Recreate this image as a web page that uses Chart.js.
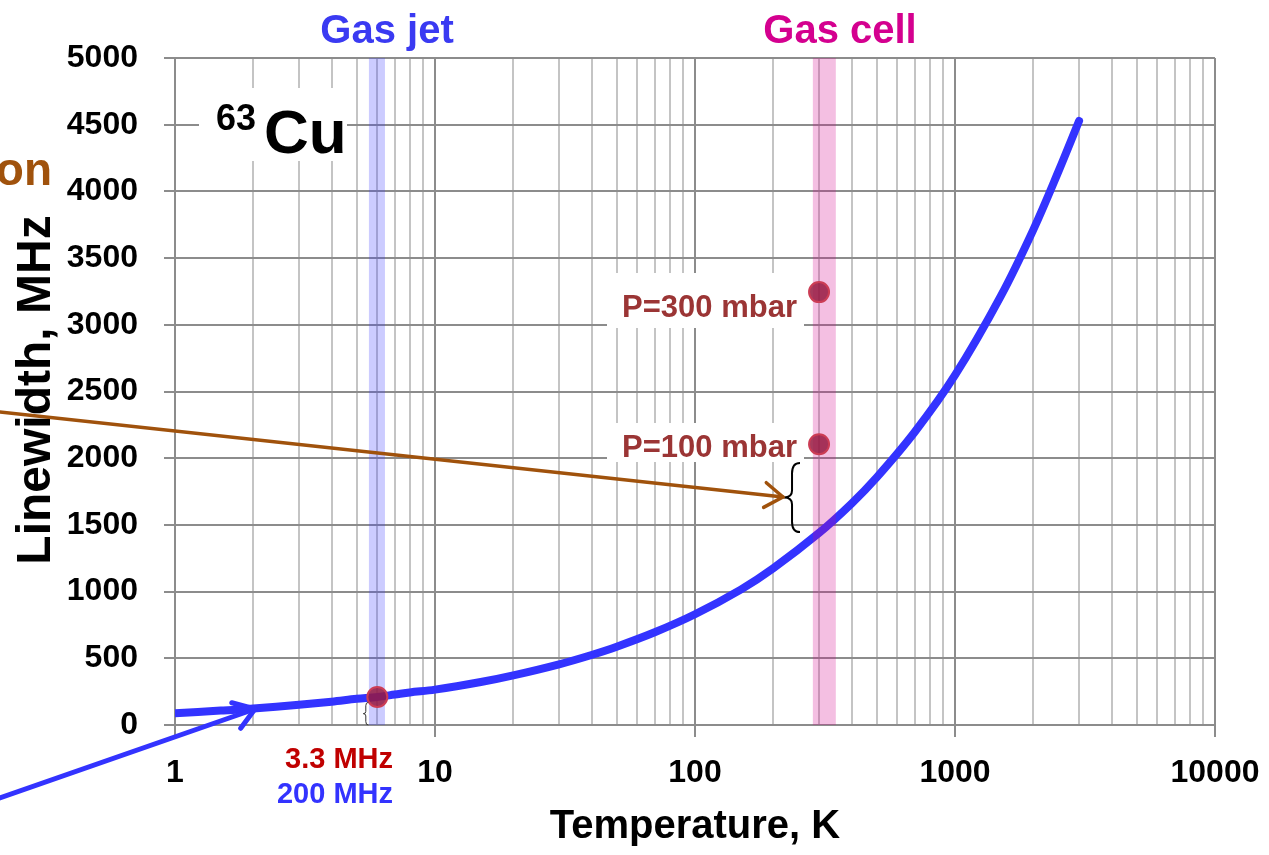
<!DOCTYPE html>
<html><head><meta charset="utf-8">
<script src="https://cdn.jsdelivr.net/npm/chart.js@4.4.1/dist/chart.umd.min.js"></script>
<style>html,body{margin:0;padding:0;background:#fff;}canvas{display:block;}</style>
</head><body>
<canvas id="c" width="1269" height="855"></canvas>
<script>
// ---- data ----
const temperatureK = [1, 1.5, 2, 3, 4, 5, 6, 7, 8, 10, 15, 20, 30, 40, 50, 70, 100, 150, 200, 300, 400, 500, 700, 1000, 1500, 2000, 2500, 3000];
const linewidthMHz = [88, 108, 124, 152, 175, 196, 210, 228, 244, 265, 322, 372, 455, 525, 587, 695, 830, 1015, 1175, 1440, 1660, 1856, 2196, 2622, 3215, 3712, 4150, 4528];
const markerTemperatureK = [6, 300, 300];
const markerLinewidthMHz = [210, 3245, 2105];
const xDecades = [1, 10, 100, 1000, 10000];
const xTickLabels = ['1', '10', '100', '1000', '10000'];
const yTickValues = [0, 500, 1000, 1500, 2000, 2500, 3000, 3500, 4000, 4500, 5000];
const jetBandK = [5.57, 6.42];
const cellBandK = [284, 348];

const FONT = "'Liberation Sans', Arial, sans-serif";
const GRID_MAJOR = '#8c8c8c';
const GRID_MINOR = '#c4c4c4';

function isDecade(v) { return xDecades.some(d => Math.abs(v - d) < 1e-9 * d); }

function arrow(ctx, x0, y0, x1, y1, color, w, head) {
  const a = Math.atan2(y1 - y0, x1 - x0);
  ctx.save();
  ctx.strokeStyle = color; ctx.lineWidth = w; ctx.lineCap = 'round'; ctx.lineJoin = 'round';
  ctx.beginPath(); ctx.moveTo(x0, y0); ctx.lineTo(x1, y1); ctx.stroke();
  ctx.beginPath();
  ctx.moveTo(x1 - head * Math.cos(a - 0.6), y1 - head * Math.sin(a - 0.6));
  ctx.lineTo(x1, y1);
  ctx.lineTo(x1 - head * Math.cos(a + 0.6), y1 - head * Math.sin(a + 0.6));
  ctx.stroke();
  ctx.restore();
}

function brace(ctx, x, y0, y1, w, lw, color) {
  const h = y1 - y0, ym = (y0 + y1) / 2, xm = x + w / 2;
  ctx.save();
  ctx.strokeStyle = color; ctx.lineWidth = lw;
  ctx.beginPath();
  ctx.moveTo(x + w, y0);
  ctx.quadraticCurveTo(xm, y0, xm, y0 + h * 0.15);
  ctx.lineTo(xm, ym - h * 0.1);
  ctx.quadraticCurveTo(xm, ym, x, ym);
  ctx.quadraticCurveTo(xm, ym, xm, ym + h * 0.1);
  ctx.lineTo(xm, y1 - h * 0.15);
  ctx.quadraticCurveTo(xm, y1, x + w, y1);
  ctx.stroke();
  ctx.restore();
}

function text(ctx, s, x, y, size, color, align) {
  ctx.font = 'bold ' + size + 'px ' + FONT;
  ctx.fillStyle = color;
  ctx.textAlign = align || 'left';
  ctx.textBaseline = 'alphabetic';
  ctx.fillText(s, x, y);
}

const bandsPlugin = {
  id: 'bands',
  afterDatasetDraw(chart, args) {
    if (args.index !== 0) return;
    const ctx = chart.ctx, xs = chart.scales.x, a = chart.chartArea;
    ctx.save();
    const drawBand = (b, color) => {
      const x0 = xs.getPixelForValue(b[0]), x1 = xs.getPixelForValue(b[1]);
      ctx.fillStyle = color;
      ctx.fillRect(x0, a.top, x1 - x0, a.bottom - a.top);
    };
    drawBand(jetBandK, 'rgba(51,51,255,0.25)');
    drawBand(cellBandK, 'rgba(212,0,138,0.25)');
    ctx.restore();
  }
};

const annotPlugin = {
  id: 'annot',
  afterDraw(chart) {
    const ctx = chart.ctx, xs = chart.scales.x, ys = chart.scales.y;
    const px = v => xs.getPixelForValue(v), py = v => ys.getPixelForValue(v);
    ctx.save();
    // white label boxes
    ctx.fillStyle = '#fff';
    ctx.fillRect(199, 88, 148, 73);
    ctx.fillRect(607, 273, 197, 55);
    ctx.fillRect(607, 423, 197, 39);
    // header labels
    text(ctx, 'Gas jet', 387, 43, 40, '#3a3af2', 'center');
    text(ctx, 'Gas cell', 840, 43, 40, '#d4008f', 'center');
    // isotope label
    text(ctx, '63', 216, 130, 36, '#000', 'left');
    text(ctx, 'Cu', 264, 153, 62, '#000', 'left');
    // pressure labels
    text(ctx, 'P=300 mbar', 797, 317, 31, '#9b3535', 'right');
    text(ctx, 'P=100 mbar', 797, 457, 31, '#9b3535', 'right');
    // linewidth notes
    text(ctx, '3.3 MHz', 393, 768, 29, '#c00000', 'right');
    text(ctx, '200 MHz', 393, 803, 29, '#3333ff', 'right');
    // cut-off word on the left
    text(ctx, 'on', 52, 185, 46, '#a0520c', 'right');
    // axis titles
    text(ctx, 'Temperature, K', 695, 838, 40, '#000', 'center');
    ctx.save();
    ctx.translate(50, 390);
    ctx.rotate(-Math.PI / 2);
    text(ctx, 'Linewidth, MHz', 0, 0, 48, '#000', 'center');
    ctx.restore();
    // braces
    brace(ctx, px(220), py(1964), py(1447), 16, 2, '#000');
    brace(ctx, px(5.3), py(170), py(0), 5, 1, '#333');
    // arrows
    arrow(ctx, px(0.212), py(2346), px(218), py(1709), '#a0520c', 3.5, 22);
    arrow(ctx, px(0.212), py(-547), px(2.03), py(120), '#3333ff', 5, 24);
    ctx.restore();
  }
};

new Chart(document.getElementById('c'), {
  type: 'line',
  data: {
    datasets: [
      {
        data: temperatureK.map((t, i) => ({ x: t, y: linewidthMHz[i] })),
        borderColor: '#3333ff', borderWidth: 8, pointRadius: 0,
        tension: 0.35, borderCapStyle: 'round', borderJoinStyle: 'round',
        fill: false, order: 2
      },
      {
        type: 'scatter',
        data: markerTemperatureK.map((t, i) => ({ x: t, y: markerLinewidthMHz[i] })),
        backgroundColor: 'rgba(150,25,65,0.85)', borderColor: '#cc3d55', borderWidth: 2,
        pointRadius: 10, showLine: false, order: 1
      }
    ]
  },
  options: {
    responsive: false, animation: false, devicePixelRatio: 1,
    layout: { padding: { left: 0, right: 54, top: 58, bottom: 0 } },
    plugins: { legend: { display: false }, tooltip: { enabled: false } },
    scales: {
      x: {
        type: 'logarithmic', min: 1, max: 10000,
        afterFit(s) { s.height = 130; s.paddingLeft = 0; s.paddingRight = 0; },
        afterBuildTicks(s) {
          const t = [];
          for (let d = 0; d < xDecades.length - 1; d++)
            for (let k = 1; k <= 9; k++) t.push({ value: k * xDecades[d] });
          t.push({ value: xDecades[xDecades.length - 1] });
          s.ticks = t;
        },
        ticks: {
          autoSkip: false, maxRotation: 0, minRotation: 0, padding: 17,
          color: '#000', font: { family: FONT, size: 32, weight: 'bold' },
          callback(v) { const i = xDecades.findIndex(d => Math.abs(v - d) < 1e-9 * d); return i >= 0 ? xTickLabels[i] : ''; }
        },
        grid: {
          color: c => isDecade(c.tick.value) ? GRID_MAJOR : GRID_MINOR,
          tickColor: c => isDecade(c.tick.value) ? GRID_MAJOR : 'rgba(0,0,0,0)',
          lineWidth: 2, tickLength: 12
        },
        border: { color: GRID_MAJOR, width: 2 }
      },
      y: {
        min: 0, max: 5000,
        afterFit(s) { s.width = 175; s.paddingTop = 0; s.paddingBottom = 0; },
        afterBuildTicks(s) { s.ticks = yTickValues.map(v => ({ value: v })); },
        ticks: {
          padding: 26, color: '#000', font: { family: FONT, size: 32, weight: 'bold' },
          callback: v => String(v)
        },
        grid: { color: GRID_MAJOR, tickColor: GRID_MAJOR, lineWidth: 2, tickLength: 11 },
        border: { color: GRID_MAJOR, width: 2 }
      }
    }
  },
  plugins: [bandsPlugin, annotPlugin]
});
</script>
</body></html>
